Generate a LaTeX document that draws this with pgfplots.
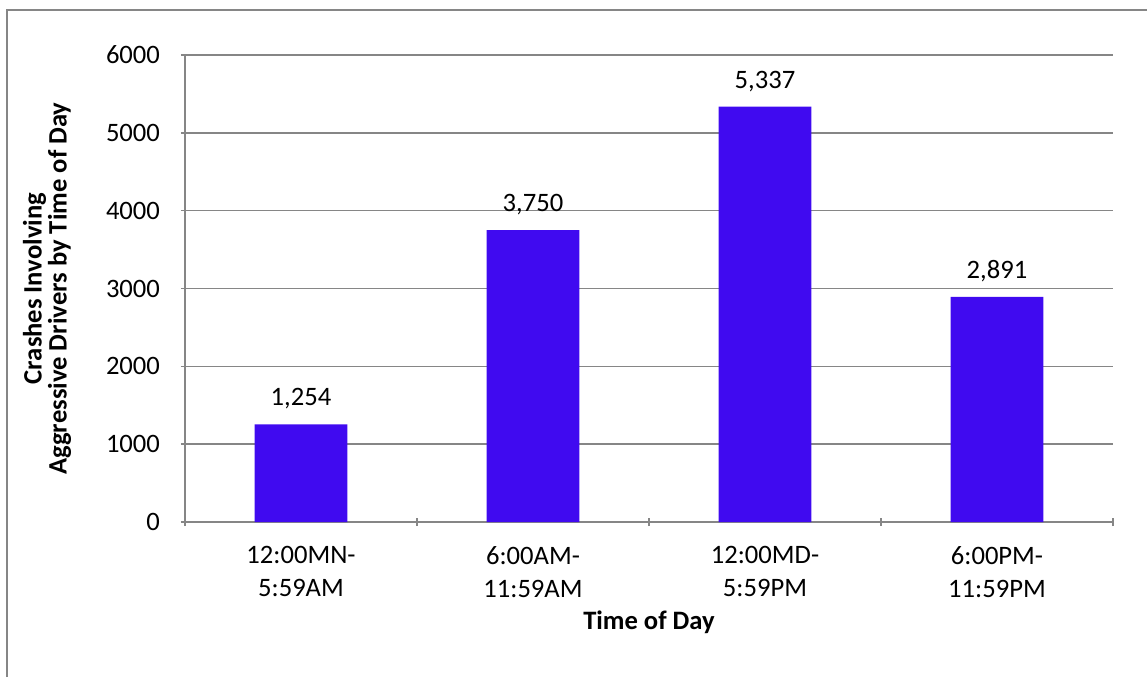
\documentclass[border=0pt]{standalone}
\usepackage{fontspec}
\setmainfont{Carlito}
\usepackage{pgfplots}
\pgfplotsset{compat=1.18}
\definecolor{barblue}{RGB}{64,10,240}
\definecolor{axisgray}{RGB}{134,134,134}
\begin{document}
\begin{tikzpicture}
\useasboundingbox (0pt,0pt) rectangle (573.5pt,338.5pt);
% chart frame (top and left edges)
\draw[axisgray, line width=0.9pt] (3.5pt,0pt) -- (3.5pt,333.5pt) -- (573.5pt,333.5pt);
\begin{axis}[
  at={(92.5pt,77.5pt)}, anchor=south west,
  scale only axis, width=464pt, height=233.5pt,
  ymin=0, ymax=6000, ytick={0,1000,...,6000},
  xmin=-0.5, xmax=3.5,
  xtick={0,1,2,3},
  xticklabels={12:00MN-\\5:59AM, 6:00AM-\\11:59AM, 12:00MD-\\5:59PM, 6:00PM-\\11:59PM},
  minor xtick={-0.5,0.5,1.5,2.5,3.5},
  major x tick style={draw=none},
  minor tick length=4pt, major tick length=4pt,
  tick align=outside,
  axis x line=bottom, axis y line=left,
  axis line style={-, axisgray, line width=0.75pt},
  tick style={axisgray, line width=0.75pt},
  ymajorgrids, grid style={axisgray, line width=0.75pt},
  x tick label style={align=center, font=\fontsize{13.3}{16.5}\selectfont, yshift=-6.5pt},
  y tick label style={font=\fontsize{13.3}{16}\selectfont, xshift=-7pt},
  /pgf/number format/assume math mode=true,
  scaled y ticks=false,
  yticklabel style={/pgf/number format/fixed, /pgf/number format/1000 sep={}},
  xlabel={\textbf{Time of Day}},
  xlabel style={font=\fontsize{13.3}{16}\selectfont, at={(axis description cs:0.5,-0.214)}, anchor=center},
  ylabel={\textbf{Crashes Involving}\\\textbf{Aggressive Drivers by Time of Day}},
  ylabel style={font=\fontsize{13.3}{12.5}\selectfont, align=center, at={(axis description cs:-0.1487,0.5)}, anchor=center},
  nodes near coords,
  nodes near coords style={font=\fontsize{13.3}{16}\selectfont, anchor=south, yshift=4pt,
    /pgf/number format/fixed, /pgf/number format/1000 sep={,}},
]
\addplot[ybar, bar width=0.4, fill=barblue, draw=none] coordinates {
  (0,1254) (1,3750) (2,5337) (3,2891)
};
\end{axis}
\end{tikzpicture}
\end{document}
